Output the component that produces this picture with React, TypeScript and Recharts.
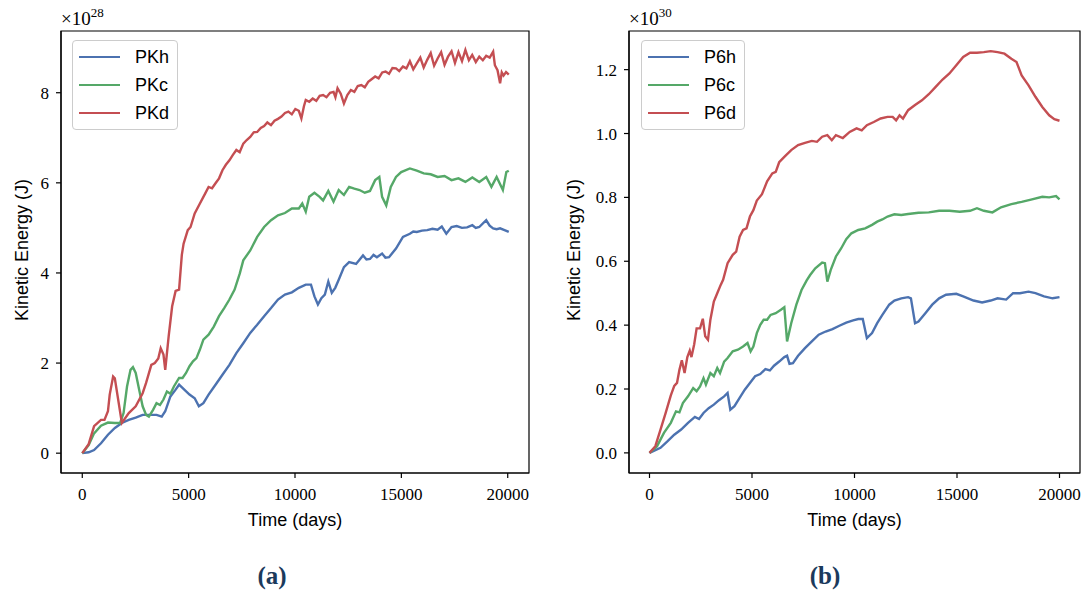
import React from 'react';
import { LineChart, Line, XAxis, YAxis, Legend, ReferenceArea, Label } from 'recharts';

// panel (a): kinetic energy of the PK runs, in units of 1e28 J
const pkh: [number, number][] = [
  [0, 0], [300, 0.02], [555, 0.07], [880, 0.22], [1207, 0.41], [1533, 0.56], [1860, 0.67], [2186, 0.74],
  [2512, 0.79], [2838, 0.85], [3165, 0.85], [3491, 0.85], [3736, 0.81], [3900, 0.93], [4143, 1.26],
  [4388, 1.41], [4551, 1.52], [4796, 1.41], [5041, 1.3], [5285, 1.22], [5481, 1.04], [5693, 1.11],
  [5938, 1.3], [6264, 1.52], [6590, 1.74], [6917, 1.96], [7243, 2.22], [7569, 2.44], [7896, 2.67],
  [8222, 2.85], [8548, 3.04], [8874, 3.22], [9200, 3.41], [9527, 3.52], [9853, 3.57], [10180, 3.67],
  [10506, 3.74], [10750, 3.74], [10914, 3.48], [11077, 3.3], [11240, 3.44], [11403, 3.52], [11566, 3.81],
  [11729, 3.56], [11892, 3.67], [12055, 3.85], [12300, 4.13], [12545, 4.24], [12871, 4.2], [13197, 4.39],
  [13360, 4.3], [13524, 4.31], [13690, 4.4], [13850, 4.35], [14094, 4.43], [14250, 4.34], [14420, 4.35],
  [14747, 4.54], [15074, 4.8], [15400, 4.87], [15560, 4.92], [15726, 4.91], [15970, 4.94], [16215, 4.95],
  [16460, 4.98], [16705, 4.96], [16900, 5.03], [17113, 4.87], [17357, 5.02], [17600, 5.04], [17847, 5.0],
  [18090, 5.01], [18336, 5.06], [18500, 5.0], [18662, 5.02], [18989, 5.17], [19150, 5.05], [19315, 4.99],
  [19480, 4.97], [19641, 4.99], [19850, 4.95], [20049, 4.91],
];
const pkc: [number, number][] = [
  [0, 0], [300, 0.18], [555, 0.44], [880, 0.61], [1207, 0.68], [1533, 0.67], [1778, 0.67], [1941, 0.89],
  [2104, 1.48], [2267, 1.85], [2382, 1.91], [2512, 1.78], [2675, 1.41], [2838, 1.04], [3001, 0.85],
  [3132, 0.81], [3328, 0.96], [3491, 1.11], [3654, 1.07], [3817, 1.19], [3980, 1.37], [4143, 1.32],
  [4307, 1.48], [4551, 1.67], [4714, 1.67], [4878, 1.78], [5041, 1.93], [5204, 2.04], [5367, 2.11],
  [5530, 2.3], [5693, 2.52], [5938, 2.63], [6183, 2.81], [6427, 3.04], [6672, 3.22], [6917, 3.41],
  [7161, 3.63], [7406, 3.99], [7569, 4.28], [7896, 4.5], [8222, 4.8], [8548, 5.02], [8874, 5.17],
  [9200, 5.28], [9527, 5.33], [9853, 5.43], [10180, 5.43], [10342, 5.54], [10506, 5.36], [10669, 5.69],
  [10914, 5.78], [11158, 5.69], [11321, 5.61], [11566, 5.82], [11811, 5.58], [12055, 5.84], [12300, 5.73],
  [12545, 5.91], [12789, 5.87], [13034, 5.84], [13279, 5.78], [13524, 5.82], [13768, 6.06], [13964, 6.13],
  [14094, 5.69], [14290, 5.5], [14502, 5.91], [14747, 6.13], [14992, 6.24], [15400, 6.32], [15726, 6.27],
  [16052, 6.21], [16378, 6.19], [16705, 6.13], [17031, 6.15], [17357, 6.06], [17684, 6.1], [18010, 6.02],
  [18336, 6.12], [18662, 6.02], [18989, 6.13], [19233, 5.91], [19478, 6.13], [19772, 5.84], [19935, 6.24],
  [20049, 6.27],
];
const pkd: [number, number][] = [
  [0, 0], [300, 0.2], [555, 0.6], [880, 0.74], [1044, 0.74], [1207, 0.93], [1290, 1.3], [1450, 1.7],
  [1530, 1.66], [1860, 0.67], [2186, 0.89], [2512, 1.04], [2838, 1.33], [3000, 1.56], [3246, 1.96],
  [3410, 2.0], [3573, 2.1], [3687, 2.33], [3817, 2.19], [3900, 1.85], [4062, 2.6], [4225, 3.26],
  [4388, 3.6], [4551, 3.63], [4680, 4.4], [4763, 4.65], [4959, 4.95], [5090, 5.02], [5285, 5.32],
  [5530, 5.54], [5775, 5.76], [5938, 5.91], [6100, 5.88], [6264, 5.99], [6430, 6.1], [6590, 6.28],
  [6750, 6.4], [6917, 6.5], [7080, 6.62], [7243, 6.73], [7400, 6.68], [7569, 6.87], [7730, 6.95],
  [7896, 7.02], [8060, 7.12], [8222, 7.13], [8390, 7.22], [8548, 7.26], [8700, 7.34], [8870, 7.28],
  [9037, 7.38], [9200, 7.42], [9364, 7.47], [9530, 7.55], [9690, 7.58], [9850, 7.52], [10016, 7.64],
  [10180, 7.6], [10300, 7.43], [10420, 7.7], [10506, 7.84], [10670, 7.8], [10832, 7.87], [11000, 7.82],
  [11160, 7.93], [11321, 7.95], [11480, 7.9], [11650, 8.0], [11811, 8.02], [11900, 7.9], [12000, 8.1],
  [12150, 7.98], [12300, 7.76], [12460, 7.95], [12626, 8.06], [12790, 8.02], [12950, 8.15], [13116, 8.17],
  [13280, 8.12], [13442, 8.24], [13600, 8.3], [13768, 8.36], [13930, 8.32], [14100, 8.45], [14258, 8.47],
  [14420, 8.42], [14580, 8.55], [14747, 8.54], [14900, 8.48], [15074, 8.58], [15237, 8.54], [15400, 8.7],
  [15560, 8.52], [15726, 8.65], [15890, 8.78], [16050, 8.56], [16215, 8.73], [16380, 8.88], [16540, 8.6],
  [16705, 8.76], [16870, 8.9], [17030, 8.62], [17194, 8.8], [17360, 8.92], [17520, 8.66], [17684, 8.9],
  [17850, 8.7], [18010, 8.95], [18173, 8.72], [18330, 8.84], [18500, 8.68], [18662, 8.8], [18830, 8.72],
  [18989, 8.82], [19152, 8.78], [19315, 8.91], [19396, 8.61], [19520, 8.5], [19641, 8.21], [19720, 8.45],
  [19804, 8.38], [19920, 8.46], [20049, 8.4],
];

// panel (b): kinetic energy of the P6 runs, in units of 1e30 J
const p6h: [number, number][] = [
  [0, 0], [537, 0.016], [872, 0.036], [1208, 0.057], [1544, 0.073], [1879, 0.094], [2215, 0.1125],
  [2416, 0.106], [2634, 0.125], [2886, 0.14], [3138, 0.151], [3389, 0.165], [3641, 0.177], [3809, 0.1875],
  [3943, 0.135], [4144, 0.146], [4396, 0.172], [4648, 0.198], [4899, 0.219], [5151, 0.24], [5403, 0.247],
  [5654, 0.2625], [5872, 0.258], [6074, 0.273], [6326, 0.286], [6577, 0.3], [6711, 0.304], [6829, 0.279],
  [6997, 0.281], [7248, 0.304], [7584, 0.328], [7919, 0.349], [8255, 0.37], [8591, 0.38], [8926, 0.3875],
  [9262, 0.398], [9597, 0.408], [9933, 0.415], [10185, 0.419], [10403, 0.419], [10604, 0.359],
  [10856, 0.375], [11107, 0.406], [11359, 0.432], [11694, 0.464], [11946, 0.477], [12282, 0.484],
  [12617, 0.4875], [12752, 0.484], [12953, 0.406], [13121, 0.411], [13456, 0.4375], [13792, 0.464],
  [14128, 0.484], [14463, 0.495], [14966, 0.498], [15302, 0.49], [15805, 0.477], [16225, 0.471],
  [16644, 0.477], [16980, 0.484], [17399, 0.48], [17735, 0.5], [18070, 0.5], [18490, 0.505], [18826, 0.5],
  [19245, 0.49], [19664, 0.484], [20000, 0.4875],
];
const p6c: [number, number][] = [
  [0, 0], [369, 0.021], [705, 0.0625], [1040, 0.094], [1292, 0.13], [1460, 0.127], [1628, 0.156],
  [1879, 0.177], [2131, 0.203], [2299, 0.193], [2466, 0.208], [2634, 0.234], [2752, 0.214], [2970, 0.25],
  [3138, 0.24], [3305, 0.266], [3440, 0.25], [3641, 0.286], [3809, 0.297], [4060, 0.318], [4312, 0.323],
  [4564, 0.333], [4782, 0.344], [4933, 0.318], [5067, 0.333], [5235, 0.375], [5403, 0.401], [5570, 0.417],
  [5738, 0.417], [5906, 0.432], [6158, 0.4375], [6409, 0.448], [6577, 0.456], [6711, 0.349], [6913, 0.406],
  [7164, 0.464], [7416, 0.51], [7668, 0.54], [7836, 0.557], [8087, 0.578], [8423, 0.596], [8557, 0.594],
  [8675, 0.536], [8842, 0.573], [9094, 0.615], [9346, 0.64], [9597, 0.669], [9849, 0.6875], [10185, 0.698],
  [10520, 0.703], [10856, 0.714], [11107, 0.724], [11359, 0.731], [11611, 0.74], [11946, 0.747],
  [12282, 0.745], [12617, 0.748], [13121, 0.752], [13624, 0.753], [14128, 0.758], [14631, 0.758],
  [15134, 0.755], [15638, 0.758], [15973, 0.766], [16309, 0.758], [16728, 0.753], [17148, 0.769],
  [17651, 0.779], [18154, 0.786], [18658, 0.794], [19161, 0.802], [19497, 0.8], [19832, 0.804], [20000, 0.794],
];
const p6d: [number, number][] = [
  [0, 0], [285, 0.021], [537, 0.073], [789, 0.125], [1040, 0.18], [1208, 0.21], [1342, 0.219], [1460, 0.26],
  [1577, 0.29], [1711, 0.25], [1846, 0.3], [1963, 0.32], [2047, 0.3], [2181, 0.34], [2299, 0.39],
  [2466, 0.39], [2600, 0.42], [2718, 0.365], [2852, 0.354], [2970, 0.417], [3138, 0.474], [3305, 0.5],
  [3473, 0.526], [3591, 0.542], [3809, 0.594], [4060, 0.62], [4228, 0.63], [4396, 0.677], [4564, 0.698],
  [4732, 0.703], [4899, 0.74], [5067, 0.76], [5235, 0.79], [5487, 0.81], [5738, 0.85], [5990, 0.875],
  [6158, 0.88], [6326, 0.91], [6577, 0.927], [6913, 0.948], [7248, 0.964], [7584, 0.971], [7919, 0.977],
  [8171, 0.974], [8423, 0.99], [8675, 0.995], [8893, 0.979], [9094, 0.995], [9430, 0.986], [9765, 1.005],
  [10101, 1.016], [10352, 1.01], [10604, 1.026], [10940, 1.036], [11275, 1.047], [11611, 1.052],
  [11862, 1.052], [12030, 1.041], [12198, 1.057], [12366, 1.047], [12617, 1.073], [12953, 1.089],
  [13289, 1.104], [13624, 1.123], [13960, 1.146], [14295, 1.169], [14631, 1.188], [14966, 1.214],
  [15302, 1.24], [15638, 1.253], [15973, 1.253], [16309, 1.255], [16644, 1.258], [16980, 1.255],
  [17315, 1.25], [17651, 1.234], [17903, 1.224], [18154, 1.182], [18490, 1.151], [18826, 1.115],
  [19161, 1.083], [19497, 1.057], [19748, 1.045], [20000, 1.04],
];

const timeTicks = [0, 5000, 10000, 15000, 20000];
const pkTicks = [0, 2, 4, 6, 8];
const p6Ticks = [0, 0.2, 0.4, 0.6, 0.8, 1.0, 1.2];

const BLUE = '#4c72b0';
const GREEN = '#55a868';
const RED = '#c44e52';
const SANS = '"Liberation Sans", Arial, sans-serif';
const SERIF = '"Liberation Serif", "Times New Roman", serif';

const rows = (pts: [number, number][]) => pts.map(([t, v]) => ({ t, v }));

// legend drawn from the series list so it keeps the plotting order (h, c, d)
function LegendBox({ items }: any) {
  return (
    <div
      style={{
        background: 'rgba(255,255,255,0.8)',
        border: '1px solid #cccccc',
        borderRadius: 4,
        padding: '2px 8px 2px 6px',
        fontFamily: SANS,
        fontSize: 18,
        color: '#000',
      }}
    >
      {items.map((s: any) => (
        <div key={s.name} style={{ display: 'flex', alignItems: 'center', height: 28 }}>
          <span style={{ display: 'inline-block', width: 41, borderTop: `2.5px solid ${s.color}`, marginRight: 15 }} />
          <span>{s.name}</span>
        </div>
      ))}
    </div>
  );
}

function Panel({ left, width, yWidth, rightMargin, yDomain, yTicks, yFmt, series, exponent, labelX, legendLeft, tag, tagX }: any) {
  const axisStroke = { stroke: '#000', strokeWidth: 1.2 };
  return (
    <div style={{ position: 'absolute', left, top: 0, width, height: 595 }}>
      <LineChart width={width} height={595} margin={{ top: 31, right: rightMargin, bottom: 92, left: 0 }}>
        <XAxis
          type="number"
          dataKey="t"
          domain={[-1000, 21000]}
          ticks={timeTicks}
          interval={0}
          allowDataOverflow
          height={30}
          axisLine={axisStroke}
          tickLine={axisStroke}
          tickSize={5}
          tickMargin={10}
          tick={{ fill: '#000', fontSize: 17, fontFamily: SERIF }}
        >
          <Label
            content={({ viewBox }: any) => (
              <text
                x={viewBox.x + viewBox.width / 2}
                y={viewBox.y + viewBox.height + 23}
                textAnchor="middle"
                fontFamily={SANS}
                fontSize={18}
                fill="#000"
              >
                Time (days)
              </text>
            )}
          />
        </XAxis>
        <YAxis
          type="number"
          domain={yDomain}
          ticks={yTicks}
          interval={0}
          allowDataOverflow
          width={yWidth}
          axisLine={axisStroke}
          tickLine={axisStroke}
          tickSize={5}
          tickMargin={7}
          tickFormatter={yFmt}
          tick={{ fill: '#000', fontSize: 17, fontFamily: SERIF }}
        >
          <Label
            content={({ viewBox }: any) => {
              const cy = viewBox.y + viewBox.height / 2 - 2;
              const px = viewBox.x + viewBox.width;
              return (
                <g>
                  <text
                    x={labelX}
                    y={cy}
                    transform={`rotate(-90 ${labelX} ${cy})`}
                    textAnchor="middle"
                    dominantBaseline="central"
                    fontFamily={SANS}
                    fontSize={18}
                    fill="#000"
                  >
                    Kinetic Energy (J)
                  </text>
                  <text x={px} y={viewBox.y - 6} fontFamily={SERIF} fontSize={19} fill="#000">
                    ×10
                    <tspan dy={-8} fontSize={13}>{exponent}</tspan>
                  </text>
                </g>
              );
            }}
          />
        </YAxis>
        <ReferenceArea
          x1={-1000}
          x2={21000}
          y1={yDomain[0]}
          y2={yDomain[1]}
          fill="none"
          stroke="#000"
          strokeWidth={1.2}
          ifOverflow="visible"
        />
        {series.map((s: any) => (
          <Line
            key={s.name}
            data={rows(s.points)}
            dataKey="v"
            name={s.name}
            type="linear"
            stroke={s.color}
            strokeWidth={2.4}
            dot={false}
            activeDot={false}
            isAnimationActive={false}
          />
        ))}
        <Legend
          layout="vertical"
          align="center"
          verticalAlign="middle"
          wrapperStyle={{ left: legendLeft, top: 40, width: 'auto', height: 'auto' }}
          content={<LegendBox items={series} />}
        />
      </LineChart>
      <div
        style={{
          position: 'absolute',
          left: tagX - 40,
          width: 80,
          top: 561,
          textAlign: 'center',
          fontFamily: SERIF,
          fontWeight: 'bold',
          fontSize: 25,
          lineHeight: '30px',
          color: '#1b3a5c',
        }}
      >
        {tag}
      </div>
    </div>
  );
}

export default function App() {
  return (
    <div style={{ position: 'absolute', left: 0, top: 0, width: 1088, height: 595, background: '#fff' }}>
      <Panel
        left={0}
        width={545}
        yWidth={61}
        rightMargin={16}
        yDomain={[-0.44, 9.37]}
        yTicks={pkTicks}
        yFmt={(v: number) => String(v)}
        exponent="28"
        labelX={22}
        legendLeft={72}
        tag="(a)"
        tagX={272}
        series={[
          { name: 'PKh', points: pkh, color: BLUE },
          { name: 'PKc', points: pkc, color: GREEN },
          { name: 'PKd', points: pkd, color: RED },
        ]}
      />
      <Panel
        left={545}
        width={543}
        yWidth={84}
        rightMargin={8}
        yDomain={[-0.063, 1.321]}
        yTicks={p6Ticks}
        yFmt={(v: number) => v.toFixed(1)}
        exponent="30"
        labelX={29}
        legendLeft={96}
        tag="(b)"
        tagX={280}
        series={[
          { name: 'P6h', points: p6h, color: BLUE },
          { name: 'P6c', points: p6c, color: GREEN },
          { name: 'P6d', points: p6d, color: RED },
        ]}
      />
    </div>
  );
}
